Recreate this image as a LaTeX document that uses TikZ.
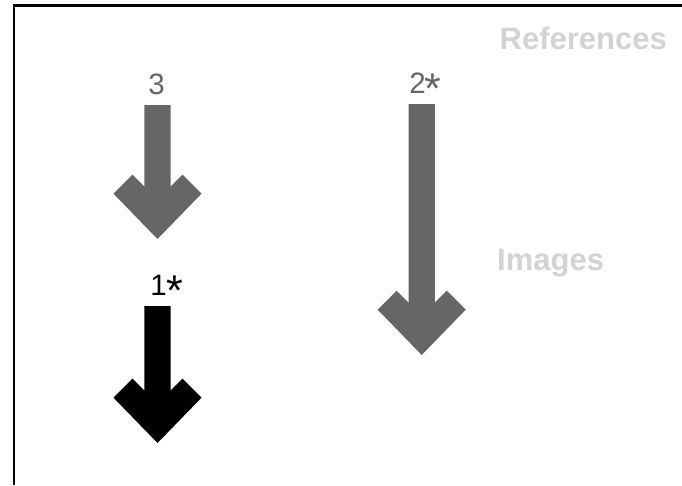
\documentclass[tikz,border=0pt]{standalone}
\usepackage{fontspec}
\setmainfont{Liberation Sans}
\definecolor{arrowgray}{HTML}{666666}
\definecolor{headgray}{HTML}{D3D3D3}
\newcommand\fatarrow[4]{%
  \fill[#4] (#1-13.2,#2) -- (#1-13.2,#3-52.5) -- (#1-25,#3-64.3) -- (#1-44,#3-45.3)
    -- (#1,#3) -- (#1+44,#3-45.3) -- (#1+25,#3-64.3) -- (#1+13.2,#3-52.5)
    -- (#1+13.2,#2) -- cycle;}
\newcommand\bigast{\raisebox{-10.5pt}{\fontsize{43}{43}\selectfont *}}
\begin{document}
\begin{tikzpicture}[x=1pt,y=-1pt,
  numlabel/.style={anchor=base,inner sep=0pt,font=\fontsize{29.5}{29.5}\selectfont},
  section/.style={anchor=base west,inner sep=0pt,text=headgray,font=\fontsize{31}{31}\selectfont\bfseries}]
\useasboundingbox (0,0) rectangle (682,485);
\fill[white] (0,0) rectangle (682,485);
% frame
\coordinate (fbl) at (14,485);
\coordinate (ftl) at (14,5.3);
\coordinate (ftr) at (682,5.3);
\draw[line width=2.5pt] (fbl) -- (ftl) -- (ftr);
% section titles
\node[section] (refs) at (499.5,49) {References};
\node[section] (imgs) at (497,270) {Images};
% arrows
\fatarrow{157.5}{105}{239}{arrowgray}
\fatarrow{421.7}{104}{355}{arrowgray}
\fatarrow{157.5}{306}{443}{black}
% labels
\node[numlabel,text=arrowgray] (l3) at (156.5,94) {3};
\node[numlabel,text=arrowgray] (l2) at (425.5,93.3) {2\kern-1pt\bigast};
\node[numlabel,text=black] (l1) at (167,295) {1\bigast};
\end{tikzpicture}
\end{document}
